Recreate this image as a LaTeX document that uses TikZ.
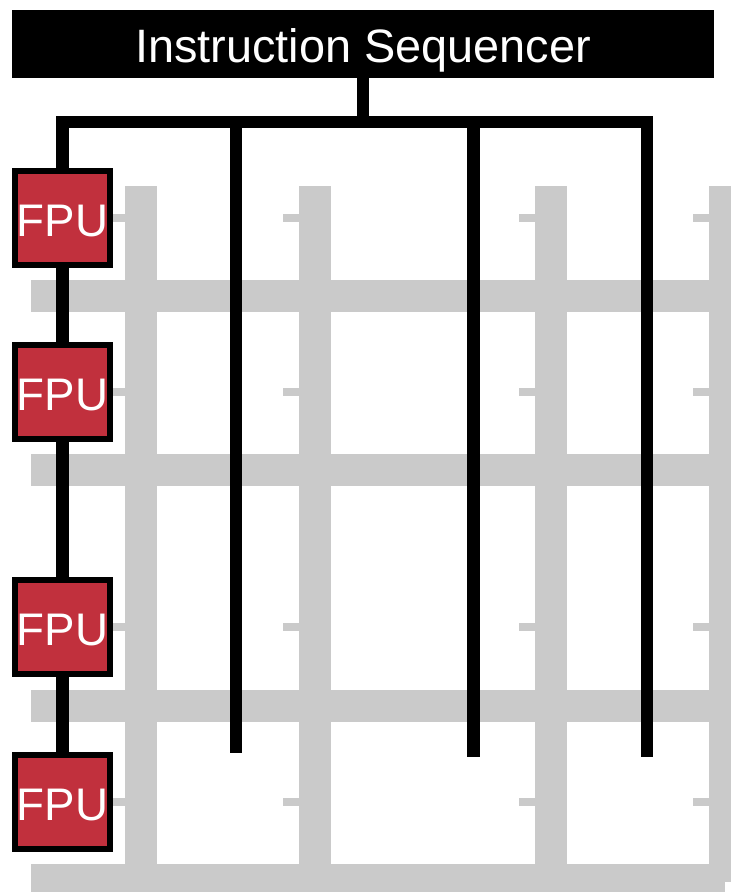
\documentclass[tikz,border=0pt]{standalone}
\usepackage{fontspec}
\setmainfont{Liberation Sans}
\usetikzlibrary{positioning}
\definecolor{fpuRed}{RGB}{193,48,61}
\definecolor{gridGray}{RGB}{202,202,202}

\begin{document}
\begin{tikzpicture}[x=0.03cm, y=-0.03cm,
  wire/.style={line width=0.375cm, line join=miter},
  seqbox/.style={fill=black, text=white, minimum width=21.06cm, minimum height=2.04cm,
    inner sep=0pt, text height=32pt, text depth=0pt, font=\fontsize{40}{44}\selectfont},
  fpu/.style={draw, line width=0.18cm, fill=fpuRed, text=white, minimum size=2.82cm,
    inner sep=0pt, text height=32pt, text depth=0pt, font=\fontsize{39}{42}\selectfont}]
\clip (0,0) rectangle (731,892);
% grey grid
\foreach \gx in {125,299,535,709}{
  \fill[gridGray] (\gx,186) rectangle (\gx+32,882);
  \foreach \gy in {217.5,391.5,627,801.5}
    \fill[gridGray] (\gx-16,\gy-4) rectangle (\gx,\gy+4);
}
\foreach \gy in {280,454,690,864}
  \fill[gridGray] (31,\gy) rectangle (725,\gy+32);
% sequencer and FPUs
\node[seqbox] (seq) at (363,44) {Instruction Sequencer};
\node[fpu] (fpu1) at (62.5,217.5) {FPU};
\node[fpu] (fpu2) at (62.5,391.5) {FPU};
\node[fpu] (fpu3) at (62.5,627) {FPU};
\node[fpu] (fpu4) at (62.5,801.5) {FPU};
% broadcast bus
\coordinate (busL) at (62.5,122);
\coordinate (busR) at (647,122);
\coordinate (drop1) at (236,122);
\coordinate (drop2) at (473.5,122);
\coordinate (end1) at (236,753);
\coordinate (end2) at (473.5,757);
\coordinate (end3) at (647,757);
\draw[wire] (seq.south) -- (seq.south |- busL);
\draw[wire] (fpu1.north) -- (busL) -- (busR) -- (end3);
\draw[wire] (drop1) -- (end1);
\draw[wire] (drop2) -- (end2);
\foreach \a/\b in {fpu1/fpu2,fpu2/fpu3,fpu3/fpu4}
  \draw[wire] (\a) -- (\b);
\end{tikzpicture}
\end{document}
